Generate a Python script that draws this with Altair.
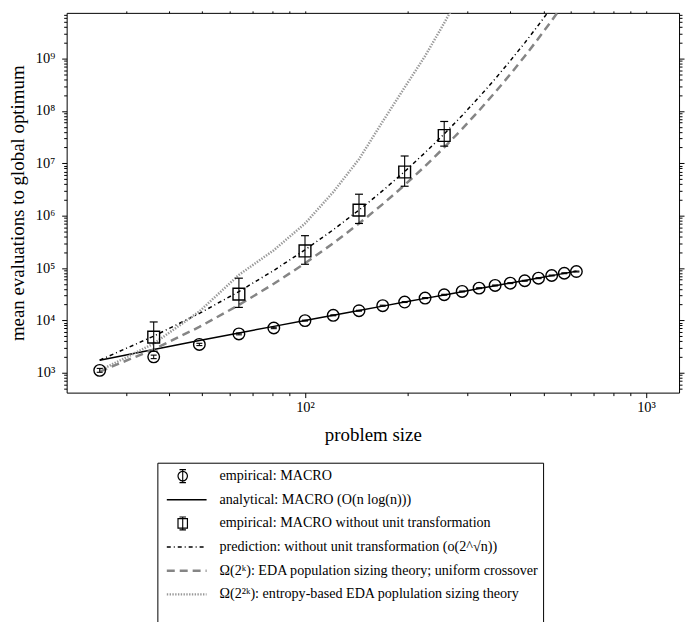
import altair as alt
import pandas as pd

# ---------------- data ----------------
n_macro = [25, 36, 49, 64, 81, 100, 121, 144, 169, 196, 225, 256, 289, 324, 361,
           400, 441, 484, 529, 576, 625]
evals_macro = [1110, 2010, 3470, 5510, 7160, 9900, 12500, 15300, 19100, 22400, 26700,
               30900, 35700, 41300, 46500, 51400, 57100, 64000, 72000, 79600, 85700]
evals_macro_lo = [1020, 1860, 3300, 5300, 6950, 9700, 12250, 15000, 18700, 21950, 26150,
                  30300, 35000, 40500, 45600, 50400, 56000, 62700, 70600, 78000, 84000]
evals_macro_hi = [1210, 2170, 3650, 5720, 7380, 10100, 12750, 15600, 19500, 22850, 27250,
                  31500, 36400, 42100, 47400, 52400, 58200, 65300, 73400, 81200, 87400]
analytical_macro = [1738, 2787, 4119, 5750, 7688, 9947, 12535, 15459, 18727, 22345, 26322,
                    30663, 35372, 40457, 45922, 51767, 58000, 64630, 71656, 79082, 86918]

n_nounit = [36, 64, 100, 144, 196, 256]
evals_nounit = [4780, 31800, 212000, 1280000, 6840000, 34000000]
evals_nounit_lo = [2580, 17700, 118000, 710000, 3650000, 21300000]
evals_nounit_hi = [9330, 64000, 415000, 2570000, 13800000, 63000000]

n_theory = [25, 36, 49, 64, 81, 100, 121, 144, 169, 196, 225, 256, 289, 324, 361,
            400, 441, 484, 529, 576]
prediction = [1740, 5000, 13600, 35500, 90000, 222000, 538000, 1280000, 3000000,
              6970000, 16000000, 36400000, 82000000, 184000000, 410000000, 910000000,
              2000000000, 4400000000, 9600000000, 21000000000]
omega_k = [1050, 2800, 7500, 19700, 50000, 123000, 297000, 708000, 1660000, 3850000,
           8850000, 20100000, 45500000, 102000000, 227000000, 503000000, 1110000000,
           2440000000, 5330000000, 11600000000]

n_entropy = [25, 36, 49, 64, 81, 100, 121, 144, 169, 196, 225, 256, 289]
omega_2k = [1100, 3600, 14800, 74000, 219000, 708000, 2820000, 12000000, 63000000,
            282000000, 1120000000, 4790000000, 20000000000]

legend_labels = [
    "empirical: MACRO",
    "analytical: MACRO (O(n log(n)))",
    "empirical: MACRO without unit transformation",
    "prediction: without unit transformation (o(2^√n))",
    "Ω(2ᵏ): EDA population sizing theory; uniform crossover",
    "Ω(2²ᵏ): entropy-based EDA poplulation sizing theory",
]

x_major = [100, 1000]
x_minor = [30, 40, 50, 60, 70, 80, 90, 200, 300, 400, 500, 600, 700, 800, 900]
y_major = [10 ** e for e in range(3, 10)]
y_minor = [m * 10 ** e for e in range(2, 10) for m in range(2, 10)
           if 417 < m * 10 ** e < 7.48e9]

# ---------------- tables ----------------
df_macro = pd.DataFrame({"n": n_macro, "v": evals_macro, "lo": evals_macro_lo,
                         "hi": evals_macro_hi, "a": analytical_macro})
df_nounit = pd.DataFrame({"n": n_nounit, "v": evals_nounit, "lo": evals_nounit_lo,
                          "hi": evals_nounit_hi})
df_theory = pd.DataFrame({"n": n_theory, "p": prediction, "k": omega_k})
df_entropy = pd.DataFrame({"n": n_entropy, "e": omega_2k})
df_leg = pd.DataFrame({"idx": list(range(len(legend_labels))), "label": legend_labels})

FONT = "Liberation Serif"
SUP = "['⁰','¹','²','³','⁴','⁵','⁶','⁷','⁸','⁹']"
POW_EXPR = "'10' + " + SUP + "[round(log(datum.value)/LN10)]"

xs = alt.Scale(type="log", domain=[20, 1250], nice=False)
ys = alt.Scale(type="log", domain=[417, 7.48e9], nice=False)

common = dict(domain=False, grid=False, tickColor="black", tickWidth=1)

ax_bottom_major = alt.Axis(orient="bottom", values=x_major, labelExpr=POW_EXPR, tickSize=5,
                           labelFont=FONT, labelFontSize=14.5, labelColor="black",
                           labelPadding=3, title="problem size", titleFont=FONT,
                           titleFontSize=19, titleFontWeight="normal", titleColor="black",
                           titleY=48, titleBaseline="alphabetic", **common)
ax_bottom_minor = alt.Axis(orient="bottom", values=x_minor, labels=False, tickSize=3,
                           title=None, **common)
ax_top_major = alt.Axis(orient="top", values=x_major, labels=False, tickSize=2,
                        title=None, **common)
ax_top_minor = alt.Axis(orient="top", values=x_minor, labels=False, tickSize=2,
                        title=None, **common)
ax_left_major = alt.Axis(orient="left", values=y_major, labelExpr=POW_EXPR, tickSize=5,
                         labelFont=FONT, labelFontSize=14.5, labelColor="black",
                         labelPadding=7, title="mean evaluations to global optimum",
                         titleFont=FONT, titleFontSize=19, titleFontWeight="normal",
                         titleColor="black", titleX=-43, titleBaseline="alphabetic",
                         **common)
ax_left_minor = alt.Axis(orient="left", values=y_minor, labels=False, tickSize=3,
                         title=None, **common)
ax_right_major = alt.Axis(orient="right", values=y_major, labels=False, tickSize=5,
                          title=None, **common)
ax_right_minor = alt.Axis(orient="right", values=y_minor, labels=False, tickSize=3,
                          title=None, **common)


def X(axis=None):
    if axis is None:
        return alt.X("n:Q", scale=xs, axis=None)
    return alt.X("n:Q", scale=xs, axis=axis)


def Y(field, axis=None):
    if axis is None:
        return alt.Y(field + ":Q", scale=ys, axis=None)
    return alt.Y(field + ":Q", scale=ys, axis=axis)


PRED_DASH = [4, 3, 1, 3]
OMK_STYLE = dict(color="#858585", strokeWidth=2.5, strokeDash=[8, 5])
OM2K_STYLE = dict(color="#999999", strokeWidth=2.5, strokeDash=[1.4, 1.4])

l_analytical = alt.Chart(df_macro).mark_line(color="black", strokeWidth=1.5, clip=True).encode(
    x=X(ax_bottom_major), y=Y("a", ax_left_major))
l_pred = alt.Chart(df_theory).mark_line(color="black", strokeWidth=1.5, strokeDash=PRED_DASH,
                                        clip=True).encode(
    x=X(ax_bottom_minor), y=Y("p", ax_left_minor))
l_omk = alt.Chart(df_theory).mark_line(clip=True, **OMK_STYLE).encode(
    x=X(ax_top_major), y=Y("k", ax_right_major))
l_om2k = alt.Chart(df_entropy).mark_line(clip=True, **OM2K_STYLE).encode(
    x=X(ax_top_minor), y=Y("e", ax_right_minor))

circ_rule = alt.Chart(df_macro).mark_rule(color="black", strokeWidth=1).encode(
    x=X(), y=Y("lo"), y2="hi:Q")
circ_cap_lo = alt.Chart(df_macro).mark_point(shape="M-1,0H1", size=36, color="black",
                                              strokeWidth=1.1, opacity=1).encode(x=X(), y=Y("lo"))
circ_cap_hi = alt.Chart(df_macro).mark_point(shape="M-1,0H1", size=36, color="black",
                                              strokeWidth=1.1, opacity=1).encode(x=X(), y=Y("hi"))
circles = alt.Chart(df_macro).mark_point(shape="circle", size=135, filled=False, color="black",
                                         strokeWidth=1.4, opacity=1).encode(x=X(), y=Y("v"))

sq_rule = alt.Chart(df_nounit).mark_rule(color="black", strokeWidth=1.1).encode(
    x=X(), y=Y("lo"), y2="hi:Q")
sq_cap_lo = alt.Chart(df_nounit).mark_point(shape="M-1,0H1", size=64, color="black",
                                             strokeWidth=1.2, opacity=1).encode(x=X(), y=Y("lo"))
sq_cap_hi = alt.Chart(df_nounit).mark_point(shape="M-1,0H1", size=64, color="black",
                                             strokeWidth=1.2, opacity=1).encode(x=X(), y=Y("hi"))
squares = alt.Chart(df_nounit).mark_point(shape="square", size=140, filled=False, color="black",
                                          strokeWidth=1.4, opacity=1).encode(x=X(), y=Y("v"))

main = alt.layer(
    l_analytical, l_pred, l_omk, l_om2k,
    circ_rule, circ_cap_lo, circ_cap_hi, circles,
    sq_rule, sq_cap_lo, sq_cap_hi, squares,
).resolve_axis(x="independent", y="independent").properties(width=616, height=382)

# ---------------- legend panel (same width as the plot, box drawn inside) ----------------
BOX_L, BOX_R = 89, 477          # legend frame, relative to the plot's left edge
SYM_C = BOX_L + 25              # marker centre
LINE_A, LINE_B = BOX_L + 9, BOX_L + 49
TEXT_X = BOX_L + 62

ly = alt.Y("idx:Q", scale=alt.Scale(domain=[-0.546, 6.6], reverse=True, nice=False),
           axis=None)
leg_base = alt.Chart(df_leg)

leg_box = leg_base.transform_filter("datum.idx == 0").mark_rect(
    fillOpacity=0, stroke="black", strokeWidth=1).encode(
    x=alt.value(BOX_L), x2=alt.value(BOX_R), y=alt.value(0), y2=alt.value(185))
leg_text = leg_base.mark_text(align="left", baseline="middle", font=FONT, fontSize=14.2,
                              color="black").encode(x=alt.value(TEXT_X), y=ly, text="label:N")
eb_path = "M0,-1V1M-0.5,-1H0.5M-0.5,1H0.5"
leg_circ = leg_base.transform_filter("datum.idx == 0").mark_point(
    shape="circle", size=90, filled=False, color="black", strokeWidth=1.2, opacity=1).encode(
    x=alt.value(SYM_C), y=ly)
leg_circ_eb = leg_base.transform_filter("datum.idx == 0").mark_point(
    shape=eb_path, size=169, filled=False, color="black", strokeWidth=1.1, opacity=1).encode(
    x=alt.value(SYM_C), y=ly)
leg_sq = leg_base.transform_filter("datum.idx == 2").mark_point(
    shape="square", size=90, filled=False, color="black", strokeWidth=1.2, opacity=1).encode(
    x=alt.value(SYM_C), y=ly)
leg_sq_eb = leg_base.transform_filter("datum.idx == 2").mark_point(
    shape=eb_path, size=169, filled=False, color="black", strokeWidth=1.1, opacity=1).encode(
    x=alt.value(SYM_C), y=ly)
leg_solid = leg_base.transform_filter("datum.idx == 1").mark_rule(
    color="black", strokeWidth=1.5).encode(x=alt.value(LINE_A), x2=alt.value(LINE_B), y=ly)
leg_pred = leg_base.transform_filter("datum.idx == 3").mark_rule(
    color="black", strokeWidth=1.5, strokeDash=PRED_DASH).encode(
    x=alt.value(LINE_A), x2=alt.value(LINE_B), y=ly)
leg_omk = leg_base.transform_filter("datum.idx == 4").mark_rule(**OMK_STYLE).encode(
    x=alt.value(LINE_A), x2=alt.value(LINE_B), y=ly)
leg_om2k = leg_base.transform_filter("datum.idx == 5").mark_rule(**OM2K_STYLE).encode(
    x=alt.value(LINE_A), x2=alt.value(LINE_B), y=ly)

legend = alt.layer(leg_box, leg_circ, leg_circ_eb, leg_solid, leg_sq, leg_sq_eb, leg_pred,
                   leg_omk, leg_om2k, leg_text).properties(
    width=616, height=170, view=alt.ViewBackground(stroke="transparent"))

chart = alt.vconcat(main, legend, spacing=17, center=True).resolve_scale(
    x="independent", y="independent").properties(
    padding={"left": 0, "top": 0, "right": 0, "bottom": 0}, background="white"
).configure_view(stroke="black", strokeWidth=1)

chart.save("out.html", embed_options={"renderer": "svg", "actions": False})
